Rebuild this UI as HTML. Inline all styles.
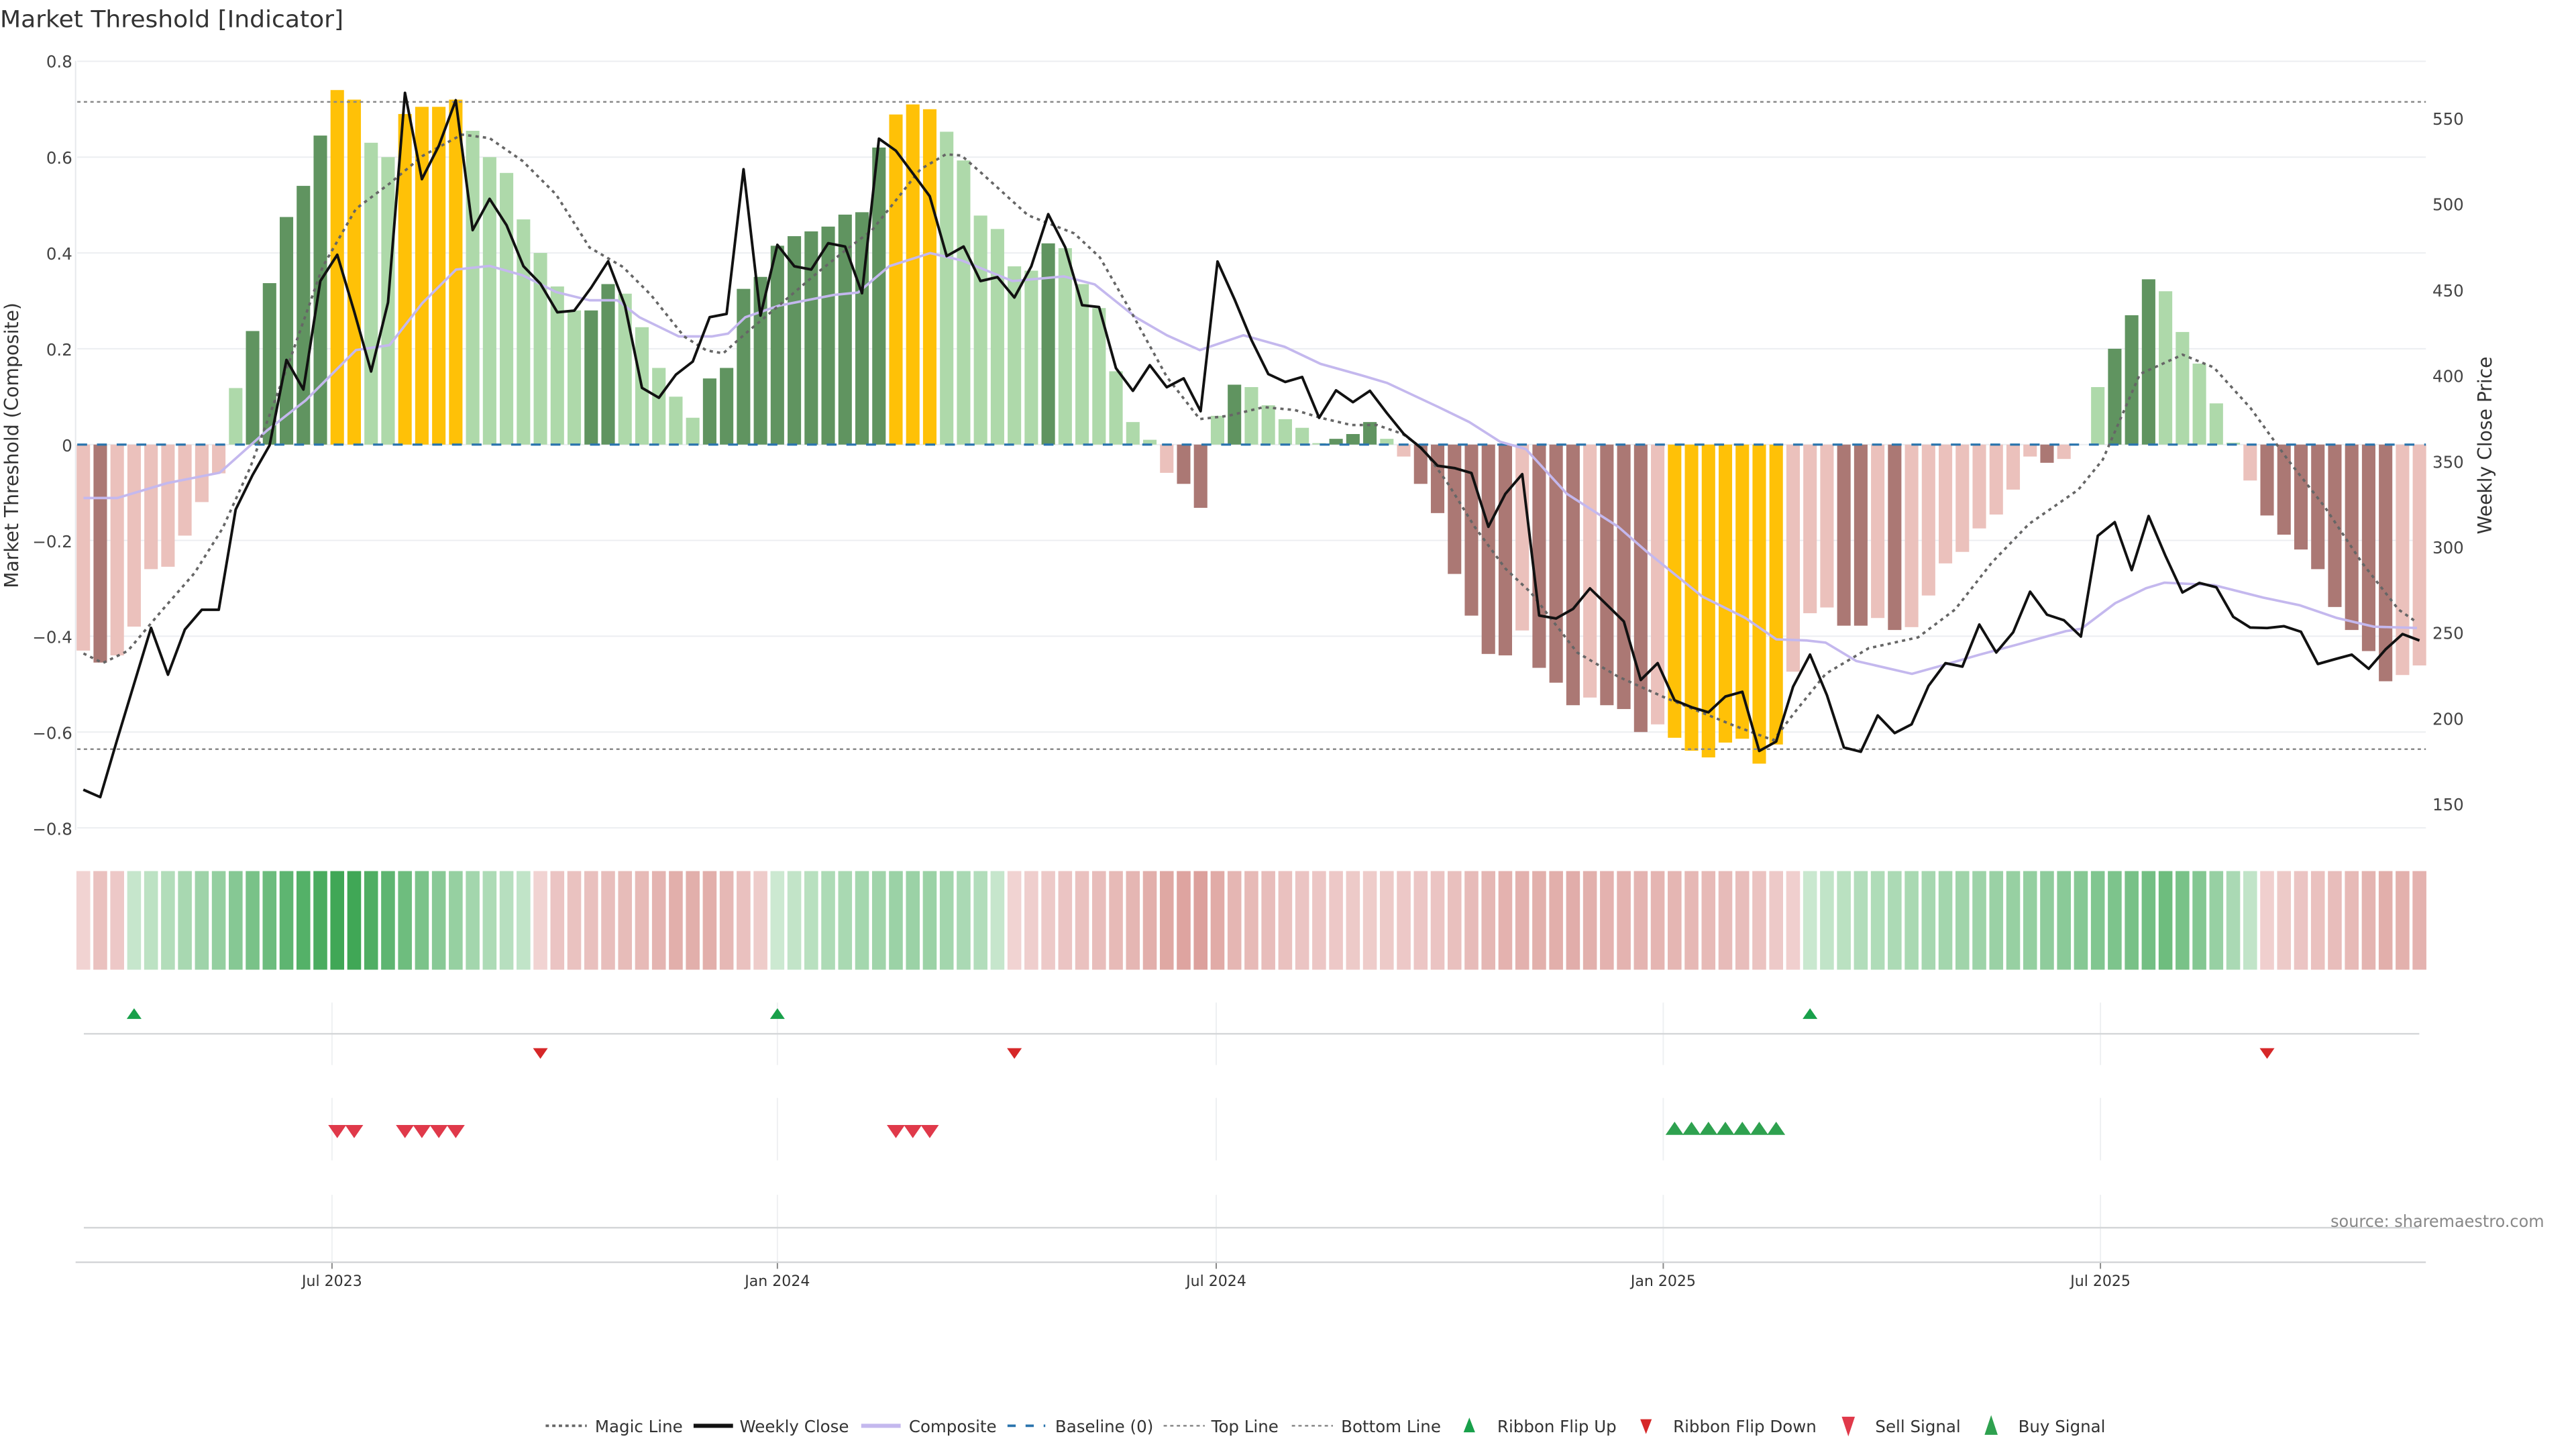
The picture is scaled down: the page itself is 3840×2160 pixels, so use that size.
<!DOCTYPE html>
<html><head><meta charset="utf-8">
<style>
html,body{margin:0;padding:0;background:#fff;}
svg{display:block;}
text{font-family:"DejaVu Sans","Liberation Sans",sans-serif;}
</style></head>
<body>
<svg id="s" xmlns="http://www.w3.org/2000/svg" width="3840" height="2160" viewBox="0 0 1567.35 881.63" preserveAspectRatio="none">
<rect x="0" y="0" width="1567.35" height="881.63" fill="#fff"/>
<g id="grid"></g>
<g id="bars"></g>
<g id="lines"></g>
<g id="ribbon"></g>
<g id="sig"></g>
<text x="0" y="16.5" font-size="14" fill="#333" textLength="209" lengthAdjust="spacingAndGlyphs">Market Threshold [Indicator]</text>
<g font-size="10" fill="#444" text-anchor="end">
<text x="44" y="41">0.8</text><text x="44" y="99.6">0.6</text><text x="44" y="158">0.4</text><text x="44" y="216.4">0.2</text><text x="44" y="274.6">0</text><text x="44" y="333">−0.2</text><text x="44" y="391.3">−0.4</text><text x="44" y="449.6">−0.6</text><text x="44" y="508">−0.8</text>
</g>
<g font-size="10" fill="#444">
<text x="1480" y="76">550</text><text x="1480" y="128">500</text><text x="1480" y="180.5">450</text><text x="1480" y="232.5">400</text><text x="1480" y="284.6">350</text><text x="1480" y="336.7">300</text><text x="1480" y="388.8">250</text><text x="1480" y="441">200</text><text x="1480" y="493">150</text>
</g>
<text transform="translate(11,271) rotate(-90)" font-size="11.5" fill="#333" text-anchor="middle">Market Threshold (Composite)</text>
<text transform="translate(1516,271) rotate(-90)" font-size="11.5" fill="#333" text-anchor="middle">Weekly Close Price</text>
<g font-size="9" fill="#333" text-anchor="middle">
<text x="202" y="782.5">Jul 2023</text><text x="473" y="782.5">Jan 2024</text><text x="740" y="782.5">Jul 2024</text><text x="1012" y="782.5">Jan 2025</text><text x="1278" y="782.5">Jul 2025</text>
</g>
<text x="1418" y="746.5" font-size="10" fill="#888" textLength="130" lengthAdjust="spacingAndGlyphs">source: sharemaestro.com</text>
<g id="leg"></g>
<g font-size="10" fill="#333">
<text x="362" y="871.5">Magic Line</text>
<text x="450" y="871.5">Weekly Close</text>
<text x="553" y="871.5">Composite</text>
<text x="642" y="871.5">Baseline (0)</text>
<text x="737" y="871.5">Top Line</text>
<text x="816" y="871.5">Bottom Line</text>
<text x="911" y="871.5">Ribbon Flip Up</text>
<text x="1018" y="871.5">Ribbon Flip Down</text>
<text x="1141" y="871.5">Sell Signal</text>
<text x="1228" y="871.5">Buy Signal</text>
</g>
</svg>
<script>
(function(){
var NS="http://www.w3.org/2000/svg";
function el(p,t,a){var e=document.createElementNS(NS,t);for(var k in a)e.setAttribute(k,a[k]);document.getElementById(p).appendChild(e);return e;}
var X0=50.7,DX=10.3,Y0=270.5,K=291.5;
function bx(i){return X0+DX*i;}
for(var v=-0.8;v<=0.801;v+=0.2){var y=Y0-v*K;el("grid","line",{x1:47,x2:1476,y1:y,y2:y,stroke:"#eceef1","stroke-width":0.8});}
el("grid","line",{x1:46,x2:46,y1:37,y2:505,stroke:"#e6e8eb","stroke-width":0.8});
var B=[[-.43,'lp'],[-.455,'dp'],[-.44,'lp'],[-.38,'lp'],[-.26,'lp'],[-.255,'lp'],[-.19,'lp'],[-.12,'lp'],[-.06,'lp'],[.118,'lg'],
[.237,'dg'],[.337,'dg'],[.475,'dg'],[.54,'dg'],[.645,'dg'],[.74,'gd'],[.72,'gd'],[.63,'lg'],[.6,'lg'],[.69,'gd'],
[.705,'gd'],[.705,'gd'],[.72,'gd'],[.655,'lg'],[.6,'lg'],[.567,'lg'],[.47,'lg'],[.4,'lg'],[.33,'lg'],[.28,'lg'],
[.28,'dg'],[.335,'dg'],[.315,'lg'],[.245,'lg'],[.16,'lg'],[.1,'lg'],[.056,'lg'],[.138,'dg'],[.16,'dg'],[.325,'dg'],
[.35,'dg'],[.415,'dg'],[.435,'dg'],[.445,'dg'],[.455,'dg'],[.48,'dg'],[.485,'dg'],[.62,'dg'],[.689,'gd'],[.71,'gd'],
[.7,'gd'],[.653,'lg'],[.593,'lg'],[.478,'lg'],[.45,'lg'],[.372,'lg'],[.363,'lg'],[.42,'dg'],[.41,'lg'],[.335,'lg'],
[.285,'lg'],[.153,'lg'],[.047,'lg'],[.01,'lg'],[-.059,'lp'],[-.082,'dp'],[-.132,'dp'],[.06,'lg'],[.125,'dg'],[.12,'lg'],
[.082,'lg'],[.053,'lg'],[.035,'lg'],[.003,'lg'],[.012,'dg'],[.022,'dg'],[.047,'dg'],[.012,'lg'],[-.025,'lp'],[-.082,'dp'],
[-.143,'dp'],[-.27,'dp'],[-.357,'dp'],[-.437,'dp'],[-.44,'dp'],[-.388,'lp'],[-.466,'dp'],[-.497,'dp'],[-.544,'dp'],[-.528,'lp'],
[-.544,'dp'],[-.552,'dp'],[-.6,'dp'],[-.584,'lp'],[-.612,'gd'],[-.639,'gd'],[-.653,'gd'],[-.622,'gd'],[-.614,'gd'],[-.666,'gd'],
[-.626,'gd'],[-.474,'lp'],[-.352,'lp'],[-.34,'lp'],[-.378,'dp'],[-.378,'dp'],[-.362,'lp'],[-.387,'dp'],[-.381,'lp'],[-.315,'lp'],
[-.248,'lp'],[-.224,'lp'],[-.175,'lp'],[-.146,'lp'],[-.094,'lp'],[-.025,'lp'],[-.038,'dp'],[-.03,'lp'],[0,'lp'],[.12,'lg'],
[.2,'dg'],[.27,'dg'],[.345,'dg'],[.32,'lg'],[.235,'lg'],[.169,'lg'],[.086,'lg'],[.004,'lg'],[-.075,'lp'],[-.148,'dp'],
[-.188,'dp'],[-.219,'dp'],[-.26,'dp'],[-.339,'dp'],[-.387,'dp'],[-.431,'dp'],[-.494,'dp'],[-.481,'lp'],[-.461,'lp']];
var C={lp:'#ebc1bc',dp:'#ab7874',lg:'#aed9aa',dg:'#609460',gd:'#ffc107'};
var BW=8.2;
B.forEach(function(b,i){var v=b[0];if(v===0)return;var y=Y0-v*K;var top=Math.min(y,Y0),h=Math.abs(y-Y0);
el("bars","rect",{x:bx(i)-BW/2,y:top,width:BW,height:Math.max(h,0.6),fill:C[b[1]]});});
el("lines","line",{x1:47,x2:1476,y1:62,y2:62,stroke:"#888","stroke-width":1,"stroke-dasharray":"2 2"});
el("lines","line",{x1:47,x2:1476,y1:455.8,y2:455.8,stroke:"#888","stroke-width":1,"stroke-dasharray":"2 2"});
el("lines","line",{x1:47,x2:1476,y1:Y0,y2:Y0,stroke:"#2a74ad","stroke-width":1.3,"stroke-dasharray":"6 6"});
function pts(a){return a.map(function(p){return p[0].toFixed(1)+","+p[1].toFixed(1);}).join(" ");}
var COMP=[[50.8,303],[71.4,303],[101.5,294],[133.7,287.6],[162.4,262],[186,243.6],[216.6,213],[237,210],[257,184.4],[277.5,164],[297.8,161.8],[318,167.5],[338.4,177.7],[358.7,182.7],[375.6,182.7],[389,193],[413,204.7],[433,204.7],[443,203],[453.5,193],[473.8,186],[507.6,179.4],[522,178],[541,162],[566,154],[585,158.4],[616,171],[647.3,168.2],[666,173],[691,193],[710,204],[730,213],[756.6,204],[781.6,211],[803.5,221.4],[828.5,228.4],[844,233],[875.3,247.7],[894,256.8],[912.8,268.8],[928.4,273.2],[953.4,300.5],[984.6,320.5],[1002,335.7],[1035.8,363],[1062,376],[1080.8,389],[1099.5,389.7],[1110.8,391],[1129.5,402.2],[1163.3,410],[1182,404.8],[1204.5,398.3],[1227,392.3],[1257,384],[1266.3,382.6],[1287,367],[1305.7,357.9],[1317,354.5],[1347,356],[1377,363.6],[1399.4,368.3],[1421.9,376],[1444.4,381.3],[1470.6,382.1]];
el("lines","polyline",{points:pts(COMP),fill:"none",stroke:"#c4b8ee","stroke-width":1.5,"stroke-linejoin":"round"});
var MAG=[[50.8,397.6],[62.6,403.4],[77.8,396],[98,372],[118.4,348.6],[135.4,321.5],[152.3,284.3],[176,220],[196.3,162.4],[216.6,127],[237,111.7],[257.2,94.8],[281,81.9],[297.8,84],[318,98],[338.4,118.4],[358.7,150.6],[379,162.4],[396,179.4],[416.2,204.7],[429.8,213.2],[440,215],[453.5,203],[473.8,186],[497.5,165.8],[514.4,152.3],[530.6,140],[545,122],[560,103],[575.5,93.9],[585,94.6],[597.4,105.5],[625.5,131],[653.6,142],[669.2,156.6],[688,189.4],[710,229.4],[730,255],[747.3,253],[769,247.7],[787.9,249.5],[803.5,254.2],[822.2,258.6],[837.8,258.6],[853.4,264],[866,273.2],[881.5,295],[897.2,320.5],[916,346],[931.5,360.6],[959.6,397],[984.6,411.7],[1012,424],[1054.6,441.3],[1079,450.4],[1092,433.4],[1110.8,410],[1137,394.4],[1167,387.8],[1189.5,370.9],[1212,342.2],[1234.5,318.8],[1264.5,298],[1279.4,279.7],[1302,227.6],[1328,215.8],[1347,223.6],[1369.4,248.4],[1392,279.7],[1414.4,308.3],[1437,342.2],[1459.4,370.9],[1470.6,378.7]];
el("lines","polyline",{points:pts(MAG),fill:"none",stroke:"#666","stroke-width":1.5,"stroke-dasharray":"2 2.5"});
var BL=[480.5,485,450,416,382,410.5,383,371,371,310,289,271,219,237,171,155,189.5,226,184,56.5,109,88.7,61,140,121,137,162,172.6,190,189,175,159,186,236,242,228,220,193,191,103,192,149,162,164,148,150,178.4,
84.4,91.7,105.5,119.4,155.8,150,171,168.6,181,162,130.3,150.4,185.7,186.8,224,237.8,222.2,235.6,230.2,250.2,159.1,182,206.8,227.6,232.4,229.4,254.2,237.5,244.7,237.8,251.3,264,272.4,283.4,284.8,287.8,320.5,300.5,288.5,374.5,376.3,370.5,358,368,378.1,
413.7,403.5,426.1,430.3,433.4,423.8,420.9,456.9,451.2,417.8,398.3,423,454.8,457.4,435.3,446,440.7,417.3,403.5,405.6,380,397,384.7,360,374,377.4,387.3,326,317.7,346.9,314,338.3,360.5,354.7,357.3,375.3,381.8,382.1,381,384.4,404,401.1,398.3,406.9,395.1,385.8,389.7];
el("lines","polyline",{points:BL.map(function(y,i){return bx(i).toFixed(1)+","+y;}).join(" "),fill:"none",stroke:"#111","stroke-width":1.6,"stroke-linejoin":"round"});
function interp(kp,i){for(var j=0;j<kp.length-1;j++){if(i>=kp[j][0]&&i<=kp[j+1][0]){var f=(i-kp[j][0])/((kp[j+1][0]-kp[j][0])||1);return kp[j][1]+f*(kp[j+1][1]-kp[j][1]);}}return kp[kp.length-1][1];}
function mix(a,b,t){return 'rgb('+[0,1,2].map(function(k){return Math.round(a[k]+(b[k]-a[k])*t);}).join(',')+')';}
var G0=[216,239,220],G1=[64,167,86],P0=[244,218,218],P1=[214,146,140];
var segs=[[0,2,'p',[[0,.1],[1,.35],[2,.25]]],[3,26,'g',[[3,.12],[8,.45],[12,.8],[15,1],[16,1],[19,.7],[23,.35],[26,.15]]],
[27,40,'p',[[27,.1],[28,.3],[33,.45],[35,.6],[37,.6],[39,.35],[40,.2]]],[41,54,'g',[[41,.08],[44,.28],[48,.4],[50,.4],[53,.25],[54,.12]]],
[55,101,'p',[[55,.1],[58,.3],[62,.5],[64,.7],[66,.8],[68,.5],[72,.3],[76,.2],[80,.3],[84,.55],[88,.62],[90,.55],[94,.5],[98,.4],[101,.15]]],
[102,128,'g',[[102,.1],[105,.25],[110,.35],[115,.45],[120,.6],[123,.7],[125,.55],[127,.3],[128,.15]]],
[129,138,'p',[[129,.15],[131,.3],[134,.45],[136,.6],[138,.55]]]];
segs.forEach(function(s){for(var i=s[0];i<=s[1];i++){var t=interp(s[3],i);var c=s[2]=='g'?mix(G0,G1,t):mix(P0,P1,t);
el("ribbon","rect",{x:bx(i)-4.2,y:530,width:8.4,height:60,fill:c});}});
[202,473,740,1012,1278].forEach(function(x){
[[610,648],[668,706],[727,768]].forEach(function(r){el("sig","line",{x1:x,x2:x,y1:r[0],y2:r[1],stroke:"#eef0f2","stroke-width":0.8});});
el("sig","line",{x1:x,x2:x,y1:768,y2:772,stroke:"#888","stroke-width":0.8});});
el("sig","line",{x1:51,x2:1472,y1:629,y2:629,stroke:"#d4d6d8","stroke-width":1});
el("sig","line",{x1:51,x2:1472,y1:747,y2:747,stroke:"#d4d6d8","stroke-width":1});
el("sig","line",{x1:46,x2:1476,y1:768,y2:768,stroke:"#d4d6d8","stroke-width":1});
function up(x,y,w,h,c,g){el(g||"sig","polygon",{points:(x-w/2)+","+(y+h/2)+" "+(x+w/2)+","+(y+h/2)+" "+x+","+(y-h/2),fill:c});}
function dn(x,y,w,h,c,g){el(g||"sig","polygon",{points:(x-w/2)+","+(y-h/2)+" "+(x+w/2)+","+(y-h/2)+" "+x+","+(y+h/2),fill:c});}
[3,41,102].forEach(function(i){up(bx(i),616.7,9,6.5,'#18a04a');});
[27,55,129].forEach(function(i){dn(bx(i),641,9,6.5,'#d62728');});
[15,16,19,20,21,22,48,49,50].forEach(function(i){dn(bx(i),688.5,11,8,'#e0394a');});
[94,95,96,97,98,99,100].forEach(function(i){up(bx(i),686.5,11,8,'#2ea14f');});
var ly=867.5;
el("leg","line",{x1:332,x2:357,y1:ly,y2:ly,stroke:"#666","stroke-width":1.5,"stroke-dasharray":"2 2"});
el("leg","line",{x1:422,x2:446,y1:ly,y2:ly,stroke:"#111","stroke-width":2.5});
el("leg","line",{x1:524,x2:548,y1:ly,y2:ly,stroke:"#c4b8ee","stroke-width":2.5});
el("leg","line",{x1:613,x2:636,y1:ly,y2:ly,stroke:"#2a74ad","stroke-width":1.5,"stroke-dasharray":"5 6"});
el("leg","line",{x1:708,x2:733,y1:ly,y2:ly,stroke:"#888","stroke-width":1,"stroke-dasharray":"2 2"});
el("leg","line",{x1:786,x2:811,y1:ly,y2:ly,stroke:"#888","stroke-width":1,"stroke-dasharray":"2 2"});
up(894,867,7,9,'#18a04a',"leg");
dn(1001.5,868,7,9,'#d62728',"leg");
dn(1124.6,868,8,12,'#e0394a',"leg");
up(1211.5,867,8,12,'#2ea14f',"leg");
})();
</script>
</body></html>
